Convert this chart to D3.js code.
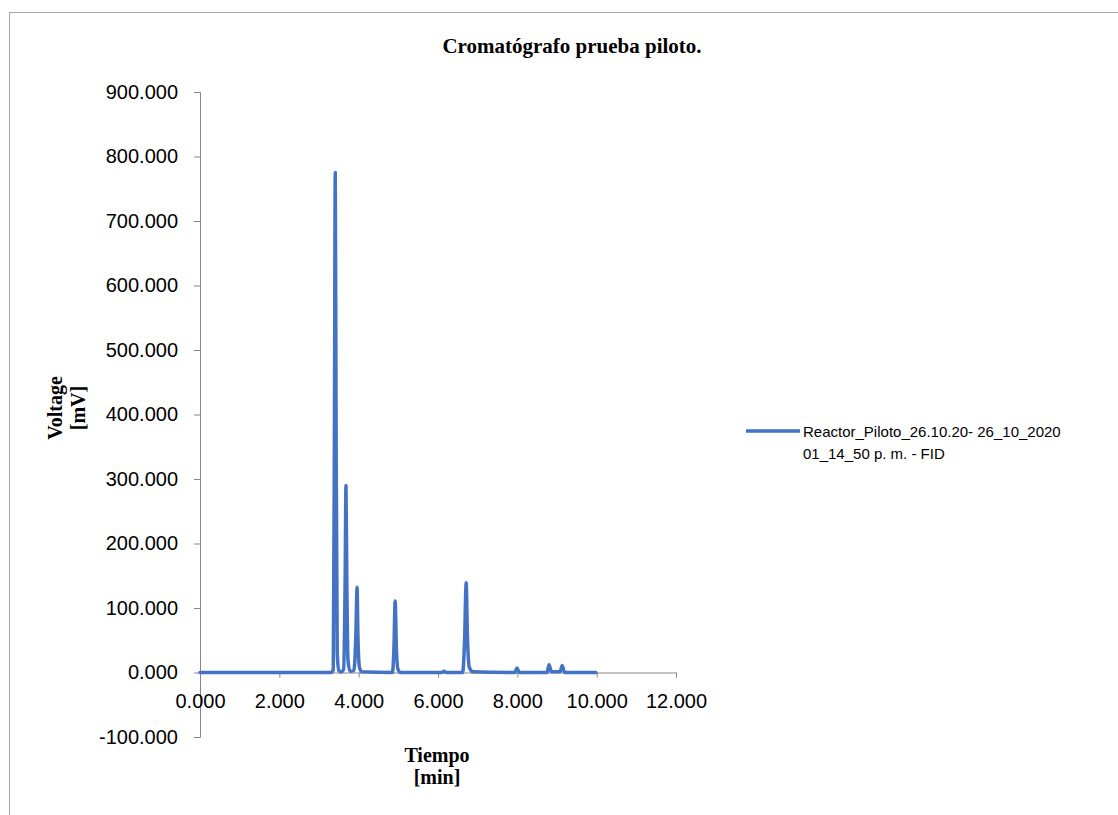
<!DOCTYPE html>
<html>
<head>
<meta charset="utf-8">
<script src="https://cdn.jsdelivr.net/npm/d3@7"></script>
<style>
  body { margin: 0; background: #fff; }
  .axis path, .axis line { stroke: #868686; }
  .axis text { font-family: "Liberation Sans", Arial, sans-serif; font-size: 20px; fill: #000; }
</style>
</head>
<body>
<svg id="chart" width="1118" height="815"></svg>
<script>
// chromatogram (min, mV)
var tiempo = [0.00, 3.30, 3.36, 3.39, 3.41, 3.43, 3.46, 3.50, 3.56, 3.62, 3.66, 3.68, 3.70, 3.73, 3.78,
              3.88, 3.93, 3.96, 3.98, 4.02, 4.08, 4.85, 4.89, 4.92, 4.95, 4.99, 5.06, 6.10, 6.15, 6.20,
              6.62, 6.67, 6.71, 6.74, 6.79, 6.88, 7.94, 7.99, 8.05, 8.75, 8.80, 8.86, 9.08, 9.13, 9.19, 9.98];
var voltaje = [0, 0, 5, 400, 775, 400, 30, 3, 1, 5, 150, 290, 150, 20, 2,
               3, 60, 132, 60, 8, 1, 0, 40, 111, 40, 5, 0, 0, 2, 0,
               0, 50, 139, 60, 8, 1, 0, 7, 0, 0, 12, 1, 1, 11, 0, 0];

var xTicks = [0, 2, 4, 6, 8, 10, 12];
var yTicks = [-100, 0, 100, 200, 300, 400, 500, 600, 700, 800, 900];
var serieName = ["Reactor_Piloto_26.10.20- 26_10_2020", "01_14_50 p. m. - FID"];

var svg = d3.select("#chart");

// outer chart frame
svg.append("rect")
    .attr("x", 9.5).attr("y", 12.5)
    .attr("width", 1130).attr("height", 820)
    .attr("fill", "none")
    .attr("stroke", "#a6a6a6");

var x = d3.scaleLinear().domain([0, 12]).range([200, 676]),
    y = d3.scaleLinear().domain([-100, 900]).range([737, 92]);

var fmt = function(d) { return d.toFixed(3); };

svg.append("g")
    .attr("class", "axis")
    .attr("transform", "translate(200,0)")
    .call(d3.axisLeft(y).tickValues(yTicks).tickSize(6).tickPadding(16).tickFormat(fmt));

svg.append("g")
    .attr("class", "axis")
    .attr("transform", "translate(0," + y(0) + ")")
    .call(d3.axisBottom(x).tickValues(xTicks).tickSize(5).tickPadding(16).tickFormat(fmt));

var pts = tiempo.map(function(t, i) { return {t: t, v: voltaje[i]}; });

var line = d3.line()
    .curve(d3.curveMonotoneX)
    .x(function(d) { return x(d.t); })
    .y(function(d) { return y(d.v); });

svg.append("path")
    .datum(pts)
    .attr("d", line)
    .attr("fill", "none")
    .attr("stroke", "#4472c4")
    .attr("stroke-width", 3.5)
    .attr("stroke-linejoin", "round")
    .attr("stroke-linecap", "round");

// title
svg.append("text")
    .attr("x", 572).attr("y", 53)
    .attr("text-anchor", "middle")
    .attr("font-family", "Liberation Serif")
    .attr("font-weight", "bold")
    .attr("font-size", "21px")
    .text("Cromatógrafo prueba piloto.");

// axis titles
var yt = svg.append("text")
    .attr("transform", "translate(62,408) rotate(-90)")
    .attr("text-anchor", "middle")
    .attr("font-family", "Liberation Serif")
    .attr("font-weight", "bold")
    .attr("font-size", "20px");
yt.append("tspan").attr("x", 0).attr("y", 0).text("Voltage");
yt.append("tspan").attr("x", 0).attr("y", 23).text("[mV]");

var xt = svg.append("text")
    .attr("text-anchor", "middle")
    .attr("font-family", "Liberation Serif")
    .attr("font-weight", "bold")
    .attr("font-size", "20px");
xt.append("tspan").attr("x", 437).attr("y", 762).text("Tiempo");
xt.append("tspan").attr("x", 437).attr("y", 784).text("[min]");

// legend
svg.append("line")
    .attr("x1", 746).attr("x2", 800)
    .attr("y1", 431).attr("y2", 431)
    .attr("stroke", "#4472c4")
    .attr("stroke-width", 3.5);

svg.selectAll(".leg")
    .data(serieName)
    .enter().append("text")
    .attr("class", "leg")
    .attr("x", 803)
    .attr("y", function(d, i) { return 437 + i * 22; })
    .attr("font-family", "Liberation Sans")
    .attr("font-size", "15px")
    .text(function(d) { return d; });
</script>
</body>
</html>
